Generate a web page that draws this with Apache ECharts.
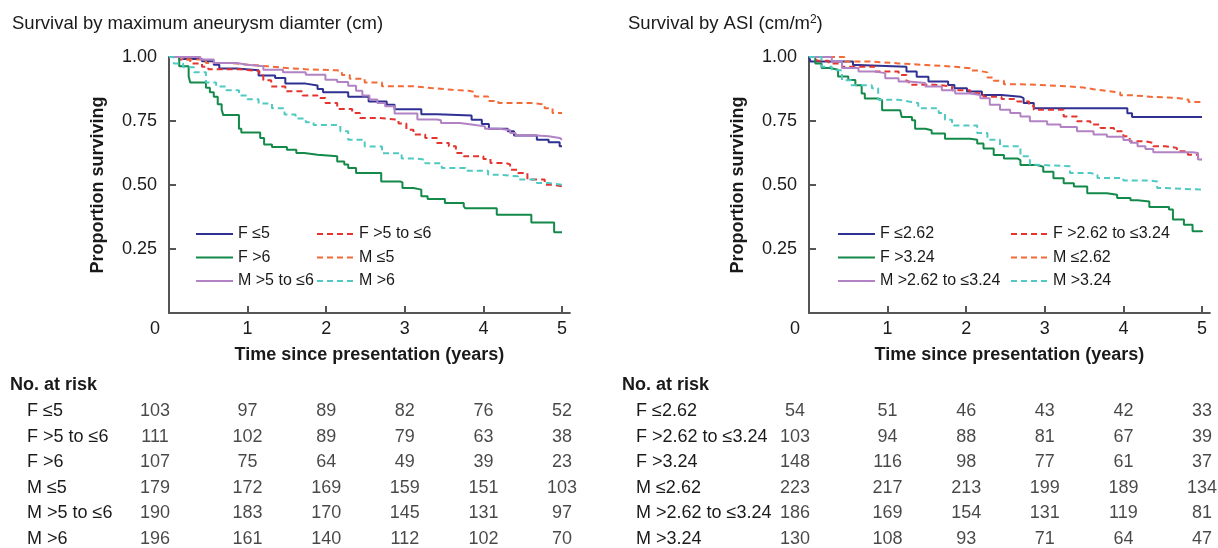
<!DOCTYPE html>
<html>
<head>
<meta charset="utf-8">
<script src="https://cdn.jsdelivr.net/npm/echarts@6/dist/echarts.min.js"></script>
<style>html,body{margin:0;padding:0;background:#fff;}#c{width:1218px;height:548px;}</style>
</head>
<body>
<div id="c"></div>
<script>
// ---------- DATA ----------
const xTicks = [0, 1, 2, 3, 4, 5];
const yTicks = [0, 0.25, 0.5, 0.75, 1.0];

// Left panel: by maximum aneurysm diameter (cm)
const leftNames = ['F ≤5', 'F >5 to ≤6', 'F >6', 'M ≤5', 'M >5 to ≤6', 'M >6'];
const leftFLe5 = [[0,1],[0.18,0.992],[0.42,0.983],[0.57,0.97],[0.64,0.955],[0.86,0.948],[1.14,0.928],[1.35,0.918],[1.48,0.896],[1.74,0.889],[1.89,0.875],[1.96,0.862],[2.28,0.845],[2.54,0.826],[2.77,0.813],[2.87,0.796],[3.21,0.776],[3.41,0.771],[3.85,0.755],[3.98,0.738],[4.07,0.72],[4.31,0.71],[4.39,0.693],[4.68,0.677],[4.83,0.667],[4.97,0.651],[5.0,0.651]];
const leftFMid = [[0,1],[0.13,0.99],[0.27,0.975],[0.42,0.962],[0.5,0.952],[0.9,0.945],[1.15,0.935],[1.2,0.909],[1.3,0.885],[1.48,0.866],[1.7,0.85],[1.89,0.84],[1.99,0.82],[2.14,0.797],[2.33,0.781],[2.43,0.762],[2.67,0.755],[2.92,0.74],[3.02,0.716],[3.11,0.697],[3.26,0.684],[3.41,0.664],[3.56,0.651],[3.65,0.625],[3.75,0.612],[4.0,0.602],[4.09,0.586],[4.29,0.58],[4.34,0.56],[4.44,0.547],[4.56,0.521],[4.78,0.501],[4.88,0.495],[5.0,0.488]];
const leftFHi = [[0,1],[0.13,0.964],[0.25,0.925],[0.27,0.9],[0.47,0.88],[0.52,0.862],[0.57,0.845],[0.62,0.815],[0.67,0.795],[0.69,0.773],[0.89,0.72],[0.92,0.705],[1.16,0.684],[1.21,0.658],[1.31,0.648],[1.5,0.638],[1.62,0.625],[1.72,0.618],[1.89,0.612],[2.14,0.592],[2.23,0.58],[2.28,0.566],[2.38,0.547],[2.7,0.514],[2.94,0.51],[2.97,0.488],[3.11,0.482],[3.21,0.456],[3.29,0.445],[3.51,0.43],[3.75,0.417],[3.77,0.409],[4.17,0.384],[4.61,0.354],[4.9,0.315],[5.0,0.315]];
const leftMLe5 = [[0,1],[0.18,0.99],[0.47,0.977],[0.76,0.97],[1.0,0.964],[1.25,0.957],[1.5,0.952],[1.74,0.948],[2.14,0.944],[2.2,0.93],[2.3,0.915],[2.49,0.9],[2.71,0.886],[3.09,0.879],[3.34,0.872],[3.6,0.868],[3.81,0.863],[3.89,0.846],[4.06,0.828],[4.19,0.82],[4.63,0.814],[4.78,0.8],[4.88,0.781],[5.0,0.781]];
const leftMMid = [[0,1],[0.4,0.99],[0.57,0.977],[0.86,0.97],[1.0,0.964],[1.2,0.95],[1.45,0.94],[1.74,0.931],[1.99,0.911],[2.14,0.902],[2.28,0.888],[2.38,0.868],[2.46,0.85],[2.55,0.834],[2.65,0.82],[2.75,0.808],[2.87,0.779],[3.16,0.756],[3.41,0.753],[3.46,0.742],[3.7,0.736],[3.85,0.729],[4.02,0.72],[4.19,0.715],[4.34,0.703],[4.41,0.693],[4.68,0.69],[4.83,0.684],[4.97,0.677],[5.0,0.677]];
const leftMHi = [[0,1],[0.06,0.975],[0.18,0.96],[0.32,0.94],[0.47,0.9],[0.6,0.885],[0.72,0.87],[0.89,0.85],[1.0,0.835],[1.14,0.818],[1.31,0.8],[1.47,0.775],[1.61,0.76],[1.74,0.745],[1.84,0.734],[2.14,0.733],[2.18,0.71],[2.28,0.677],[2.49,0.65],[2.71,0.624],[2.96,0.604],[3.11,0.599],[3.26,0.585],[3.47,0.566],[3.77,0.556],[4.06,0.54],[4.19,0.534],[4.44,0.521],[4.68,0.508],[4.83,0.501],[5.0,0.495]];

// Right panel: by ASI (cm/m2)
const rightNames = ['F ≤2.62', 'F >2.62 to ≤3.24', 'F >3.24', 'M ≤2.62', 'M >2.62 to ≤3.24', 'M >3.24'];
const rightFLo = [[0,1],[0.02,0.982],[0.56,0.969],[0.62,0.962],[1.24,0.943],[1.37,0.923],[1.52,0.904],[1.77,0.891],[1.85,0.878],[2.01,0.865],[2.2,0.852],[2.45,0.845],[2.69,0.839],[2.73,0.82],[2.86,0.8],[4.05,0.78],[4.11,0.766],[5.0,0.766]];
const rightFMid = [[0,1],[0.1,0.985],[0.25,0.975],[0.42,0.962],[0.84,0.943],[1.14,0.93],[1.24,0.905],[1.27,0.892],[1.6,0.885],[1.82,0.87],[2.05,0.858],[2.22,0.845],[2.45,0.836],[2.65,0.826],[2.8,0.81],[2.86,0.794],[3.24,0.768],[3.41,0.749],[3.58,0.736],[3.71,0.723],[3.88,0.71],[4.0,0.69],[4.08,0.671],[4.28,0.664],[4.38,0.651],[4.53,0.645],[4.68,0.632],[4.82,0.618],[4.95,0.6],[5.0,0.6]];
const rightFHi = [[0,1],[0.08,0.975],[0.16,0.957],[0.27,0.95],[0.37,0.924],[0.5,0.91],[0.59,0.89],[0.67,0.857],[0.71,0.838],[0.88,0.831],[0.93,0.792],[1.16,0.786],[1.18,0.766],[1.31,0.753],[1.35,0.72],[1.48,0.714],[1.56,0.701],[1.73,0.681],[2.05,0.677],[2.14,0.662],[2.22,0.643],[2.35,0.617],[2.48,0.604],[2.65,0.597],[2.69,0.578],[2.9,0.571],[2.98,0.552],[3.11,0.526],[3.24,0.507],[3.37,0.494],[3.54,0.468],[3.79,0.462],[3.92,0.449],[4.09,0.44],[4.18,0.436],[4.33,0.414],[4.58,0.404],[4.63,0.365],[4.77,0.345],[4.88,0.319],[5.0,0.316]];
const rightMLo = [[0,1],[0.45,0.982],[0.8,0.975],[1.14,0.969],[1.48,0.962],[1.86,0.956],[2.05,0.947],[2.14,0.94],[2.27,0.92],[2.35,0.907],[2.48,0.894],[2.69,0.887],[3.2,0.881],[3.49,0.874],[3.62,0.868],[3.79,0.861],[3.96,0.851],[4.09,0.844],[4.38,0.84],[4.68,0.833],[4.83,0.824],[5.0,0.82]];
const rightMMid = [[0,1],[0.29,0.982],[0.42,0.957],[0.63,0.943],[0.84,0.937],[0.97,0.917],[1.14,0.904],[1.27,0.898],[1.48,0.885],[1.69,0.87],[1.86,0.857],[2.05,0.852],[2.18,0.839],[2.3,0.813],[2.43,0.794],[2.56,0.781],[2.69,0.768],[2.81,0.749],[3.03,0.736],[3.2,0.727],[3.41,0.71],[3.62,0.697],[3.79,0.688],[4.0,0.676],[4.09,0.665],[4.18,0.651],[4.28,0.641],[4.38,0.628],[4.88,0.625],[4.95,0.6],[5.0,0.599]];
const rightMHi = [[0,1],[0.16,0.962],[0.29,0.948],[0.42,0.909],[0.54,0.89],[0.8,0.878],[0.88,0.833],[1.14,0.826],[1.27,0.82],[1.39,0.8],[1.65,0.781],[1.73,0.755],[1.82,0.732],[2.14,0.703],[2.27,0.677],[2.43,0.651],[2.69,0.612],[2.81,0.579],[2.9,0.573],[3.32,0.547],[3.58,0.54],[3.67,0.527],[4.0,0.518],[4.33,0.514],[4.43,0.488],[4.53,0.482],[5.0,0.482]];

// Numbers at risk (columns = years 0..5)
const leftRisk = [
  [103, 97, 89, 82, 76, 52],
  [111, 102, 89, 79, 63, 38],
  [107, 75, 64, 49, 39, 23],
  [179, 172, 169, 159, 151, 103],
  [190, 183, 170, 145, 131, 97],
  [196, 161, 140, 112, 102, 70]
];
const rightRisk = [
  [54, 51, 46, 43, 42, 33],
  [103, 94, 88, 81, 67, 39],
  [148, 116, 98, 77, 61, 37],
  [223, 217, 213, 199, 189, 134],
  [186, 169, 154, 131, 119, 81],
  [130, 108, 93, 71, 64, 47]
];

const titles = ['Survival by maximum aneurysm diamter (cm)', 'Survival by ASI (cm/m{sup|2})'];
const yName = 'Proportion surviving';
const xName = 'Time since presentation (years)';
const riskTitle = 'No. at risk';

// ---------- STYLE ----------
const FONT = '"Liberation Sans", Arial, sans-serif';
const TXT = '#1a1a1a';
const AX = '#555555';
const colors = ['#2e3192', '#e3342f', '#13894a', '#f26a36', '#b283c4', '#4fc9c1'];
const dashed = [false, true, false, true, false, true];

const leftData = [leftFLe5, leftFMid, leftFHi, leftMLe5, leftMMid, leftMHi];
const rightData = [rightFLo, rightFMid, rightFHi, rightMLo, rightMMid, rightMHi];

const panels = [
  { gridLeft: 169, legendCols: [195, 316], tableLabelX: 27, titleX: 12, riskX: 10 },
  { gridLeft: 809, legendCols: [837, 1010], tableLabelX: 636, titleX: 628, riskX: 622 }
];
const pxPerYear = 78.6;
const xMax = 5.1;

const grids = [], xAxes = [], yAxes = [], series = [], legends = [], titleArr = [];

panels.forEach((p, pi) => {
  const w = pxPerYear * xMax;
  grids.push({ left: p.gridLeft, top: 57, width: w, height: 256 });
  grids.push({ left: p.gridLeft, top: 411, width: w, height: 130 });
  const gChart = pi * 2, gTable = pi * 2 + 1;

  xAxes.push({
    gridIndex: gChart, type: 'value', min: 0, max: xMax,
    name: xName, nameLocation: 'middle', nameGap: 33,
    nameTextStyle: { fontFamily: FONT, fontSize: 18, fontWeight: 'bold', color: TXT },
    axisLine: { show: true, onZero: false, lineStyle: { color: AX, width: 2 } },
    axisTick: { show: true, inside: true, length: 7, lineStyle: { color: AX, width: 2 }, customValues: xTicks.slice(1) },
    axisLabel: {
      show: true, margin: 7, fontFamily: FONT, fontSize: 18, color: TXT,
      customValues: xTicks,
      formatter: v => (v === 0 ? '{z|0}' : String(v)),
      rich: { z: { fontFamily: FONT, fontSize: 18, color: TXT, padding: [0, 28, 0, 0] } }
    },
    splitLine: { show: false }
  });
  yAxes.push({
    gridIndex: gChart, type: 'value', min: 0, max: 1, interval: 0.25,
    name: yName, nameLocation: 'middle', nameGap: 62,
    nameTextStyle: { fontFamily: FONT, fontSize: 18, fontWeight: 'bold', color: TXT },
    axisLine: { show: true, lineStyle: { color: AX, width: 2 } },
    axisTick: { show: true, inside: true, length: 7, lineStyle: { color: AX, width: 2 } },
    axisLabel: { margin: 12, fontFamily: FONT, fontSize: 18, color: TXT, formatter: v => (v === 0 ? '' : v.toFixed(2)) },
    splitLine: { show: false }
  });

  const names = pi === 0 ? leftNames : rightNames;
  xAxes.push({ gridIndex: gTable, type: 'value', min: 0, max: xMax, show: false });
  yAxes.push({
    gridIndex: gTable, type: 'category', data: names, inverse: true, boundaryGap: false,
    axisLine: { show: false }, axisTick: { show: false }, splitLine: { show: false },
    axisLabel: { align: 'left', margin: p.gridLeft - p.tableLabelX, fontFamily: FONT, fontSize: 18, color: TXT }
  });

  const data = pi === 0 ? leftData : rightData;
  names.forEach((n, si) => {
    series.push({
      name: n, type: 'line', xAxisIndex: gChart, yAxisIndex: gChart,
      data: data[si], step: 'end', symbol: 'none', showSymbol: false,
      color: colors[si],
      lineStyle: { width: 2, color: colors[si], type: dashed[si] ? [6, 4] : 'solid' },
      emphasis: { disabled: true }, silent: true, z: 3
    });
  });

  const risk = pi === 0 ? leftRisk : rightRisk;
  const tableData = [];
  risk.forEach((row, ri) => {
    row.forEach((n, ci) => {
      const item = { value: [xTicks[ci], names[ri], n] };
      if (ci === 0) item.label = { offset: [-14, 0] };
      tableData.push(item);
    });
  });
  series.push({
    type: 'scatter', xAxisIndex: gTable, yAxisIndex: gTable,
    symbolSize: 1, itemStyle: { color: 'rgba(0,0,0,0)' },
    data: tableData, silent: true,
    label: { show: true, position: 'inside', formatter: pr => String(pr.value[2]), fontFamily: FONT, fontSize: 18, color: TXT }
  });

  [[0, 2, 4], [1, 3, 5]].forEach((idx, ci) => {
    legends.push({
      data: idx.map(i => names[i]), orient: 'vertical',
      left: p.legendCols[ci], top: 226, padding: 0,
      itemWidth: 37, itemHeight: 16, itemGap: 7.5,
      selectedMode: false,
      itemStyle: { opacity: 0 },
      textStyle: { fontFamily: FONT, fontSize: 16, color: TXT, lineHeight: 16 }
    });
  });

  titleArr.push({
    text: titles[pi], left: p.titleX, top: 14, padding: 0,
    textStyle: {
      fontFamily: FONT, fontSize: 18.5, fontWeight: 'normal', color: TXT, lineHeight: 20,
      rich: { sup: { fontFamily: FONT, fontSize: 12, color: TXT, verticalAlign: 'top', lineHeight: 10 } }
    }
  });
  titleArr.push({
    text: riskTitle, left: p.riskX, top: 376, padding: 0,
    textStyle: { fontFamily: FONT, fontSize: 18, fontWeight: 'bold', color: TXT }
  });
});

const chart = echarts.init(document.getElementById('c'), null, { renderer: 'canvas' });
chart.setOption({
  animation: false,
  backgroundColor: '#ffffff',
  textStyle: { fontFamily: FONT },
  title: titleArr,
  legend: legends,
  grid: grids,
  xAxis: xAxes,
  yAxis: yAxes,
  series: series
});
</script>
</body>
</html>
